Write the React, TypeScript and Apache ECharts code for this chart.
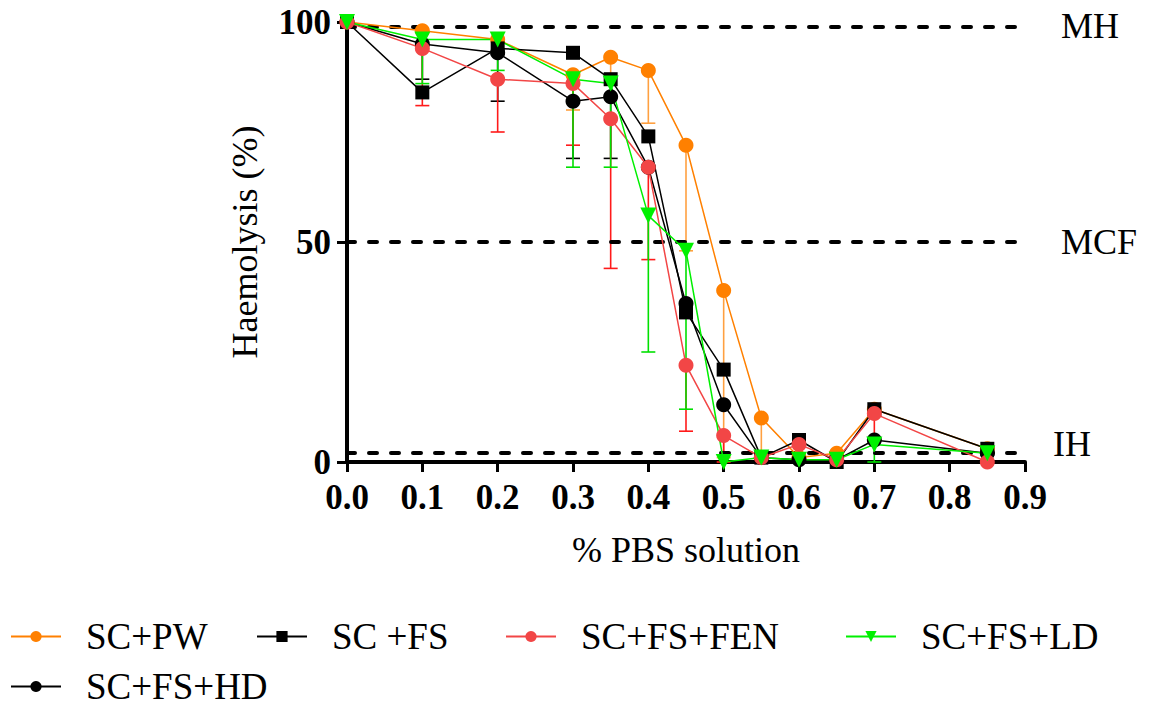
import React, { useEffect, useRef } from "react";
import * as echarts from "echarts";

const SERIF = "Liberation Serif";

const xs = [0, 0.1, 0.2, 0.3, 0.35, 0.4, 0.45, 0.5, 0.55, 0.6, 0.65, 0.7, 0.85];
const xTicks = [0, 0.1, 0.2, 0.3, 0.4, 0.5, 0.6, 0.7, 0.8, 0.9];
const yTicks = [0, 50, 100];

const pwMean = [100, 98, 96, 88, 92, 89, 72, 39, 10, 1, 2, 12, 3];
const pwErr = [0, 0, 0, 8, 9, 12, 24, 38, 8, 0, 0, 0, 0];

const fsMean = [100, 84, 94, 93, 87, 74, 34, 21, 1, 5, 0, 12, 3];
const fsErr = [0, 0, 0, 0, 0, 0, 0, 0, 0, 0, 0, 0, 0];

const fenMean = [100, 94, 87, 86, 78, 67, 22, 6, 1, 4, 0.5, 11, 0];
const fenErr = [0, 13, 12, 14, 34, 21, 15, 6, 0, 0, 0, 6, 0];

const ldMean = [100, 96, 96, 87, 86, 56, 48, 0, 1, 0.5, 0.5, 4, 2];
const ldErr = [0, 10, 7, 20, 19, 31, 36, 0, 0, 0, 0, 4, 0];

const hdMean = [100, 95, 93, 82, 83, 67, 36, 13, 1, 0.5, 0.5, 5, 2];
const hdErr = [0, 8, 11, 13, 14, 0, 0, 0, 0, 0, 0, 0, 0];

const refLines = [
  { name: "MH", value: 99 },
  { name: "MCF", value: 50 },
  { name: "IH", value: 2.2 },
];

const groups = [
  { name: "SC+PW", mean: pwMean, err: pwErr, color: "#FF8000", errColor: "#FFA040", symbol: "circle", size: 15, rotate: 0 },
  { name: "SC +FS", mean: fsMean, err: fsErr, color: "#000000", errColor: "#000000", symbol: "rect", size: 14, rotate: 0 },
  { name: "SC+FS+HD", mean: hdMean, err: hdErr, color: "#000000", errColor: "#000000", symbol: "circle", size: 15, rotate: 0 },
  { name: "SC+FS+FEN", mean: fenMean, err: fenErr, color: "#F24646", errColor: "#FF1A1A", symbol: "circle", size: 15, rotate: 0 },
  { name: "SC+FS+LD", mean: ldMean, err: ldErr, color: "#00F000", errColor: "#00E000", symbol: "triangle", size: 16, rotate: 180 },
];

const legendPos = [
  { name: "SC+PW", left: 10, top: 618 },
  { name: "SC +FS", left: 256, top: 618 },
  { name: "SC+FS+FEN", left: 505, top: 618 },
  { name: "SC+FS+LD", left: 845, top: 618 },
  { name: "SC+FS+HD", left: 10, top: 668 },
];

export default function App() {
  const ref = useRef<HTMLDivElement>(null);
  useEffect(() => {
    if (!ref.current) return;
    const chart = echarts.init(ref.current, null, { renderer: "svg" });

    const errSeries = groups.map((g) => ({
      type: "custom",
      name: g.name + " err",
      silent: true,
      z: 1,
      data: xs.map((x, i) => [x, g.mean[i], g.err[i]]),
      encode: { x: 0, y: 1 },
      renderItem: (params: any, api: any) => {
        const x = api.value(0);
        const y = api.value(1);
        const e = api.value(2);
        if (!e) return null;
        const p1 = api.coord([x, y]);
        const p2 = api.coord([x, y - e]);
        const style = { stroke: g.errColor, lineWidth: 1.6 };
        return {
          type: "group",
          children: [
            { type: "line", shape: { x1: p1[0], y1: p1[1], x2: p2[0], y2: p2[1] }, style },
            { type: "line", shape: { x1: p2[0] - 7, y1: p2[1], x2: p2[0] + 7, y2: p2[1] }, style },
          ],
        };
      },
    }));

    const lineSeries = groups.map((g, gi) => ({
      type: "line",
      name: g.name,
      z: 3,
      data: xs.map((x, i) => [x, g.mean[i]]),
      symbol: g.symbol,
      symbolSize: g.size,
      symbolRotate: g.rotate,
      showAllSymbol: true,
      itemStyle: { color: g.color },
      lineStyle: { color: g.color, width: 1.5 },
      emphasis: { disabled: true },
      markLine:
        gi === 0
          ? {
              silent: true,
              symbol: "none",
              z: 2,
              lineStyle: { color: "#000", width: 4, type: [8, 14], cap: "round" },
              label: {
                show: true,
                position: "end",
                distance: 36,
                formatter: (p: any) => (p.name === "IH" ? "IH\n " : p.name),
                fontFamily: SERIF,
                fontSize: 36,
                color: "#000",
              },
              data: refLines.map((r) => ({
                name: r.name,
                yAxis: r.value,
                label: r.name === "IH" ? { distance: 28, lineHeight: 16 } : undefined,
              })),
            }
          : undefined,
    }));

    const legends = legendPos.map((l) => ({
      show: true,
      data: [l.name],
      left: l.left,
      top: l.top,
      padding: 0,
      itemWidth: 50,
      itemHeight: 14,
      itemGap: 0,
      selectedMode: false,
      textStyle: {
        fontFamily: SERIF,
        fontSize: 37,
        fontWeight: "normal",
        color: "#000",
        lineHeight: 36,
        padding: [0, 0, 0, 20],
      },
    }));

    chart.setOption({
      animation: false,
      backgroundColor: "#fff",
      textStyle: { fontFamily: SERIF },
      legend: legends,
      grid: { left: 347, right: 128, top: 22, bottom: 244, containLabel: false },
      xAxis: {
        type: "value",
        min: xTicks[0],
        max: xTicks[xTicks.length - 1],
        interval: 0.1,
        name: "% PBS solution",
        nameLocation: "middle",
        nameGap: 70,
        nameTextStyle: { fontFamily: SERIF, fontSize: 36, fontWeight: "normal", color: "#000" },
        axisLine: { lineStyle: { color: "#000", width: 4 } },
        axisTick: { length: 10, lineStyle: { color: "#000", width: 3 } },
        axisLabel: {
          fontFamily: SERIF,
          fontWeight: "bold",
          fontSize: 35,
          color: "#000",
          margin: 18,
          formatter: (v: number) => v.toFixed(1),
        },
        splitLine: { show: false },
      },
      yAxis: {
        type: "value",
        min: yTicks[0],
        max: yTicks[yTicks.length - 1],
        interval: 50,
        name: "Haemolysis (%)",
        nameLocation: "middle",
        nameGap: 84,
        nameRotate: 90,
        nameTextStyle: { fontFamily: SERIF, fontSize: 36, fontWeight: "normal", color: "#000" },
        axisLine: { show: true, lineStyle: { color: "#000", width: 4 } },
        axisTick: { show: true, length: 10, lineStyle: { color: "#000", width: 3 } },
        axisLabel: {
          fontFamily: SERIF,
          fontWeight: "bold",
          fontSize: 35,
          color: "#000",
          margin: 16,
        },
        splitLine: { show: false },
      },
      series: [...errSeries, ...lineSeries],
    });
    return () => chart.dispose();
  }, []);
  return (
    <div
      ref={ref}
      style={{ position: "fixed", left: 0, top: 0, width: 1153, height: 706, background: "#fff" }}
    />
  );
}
